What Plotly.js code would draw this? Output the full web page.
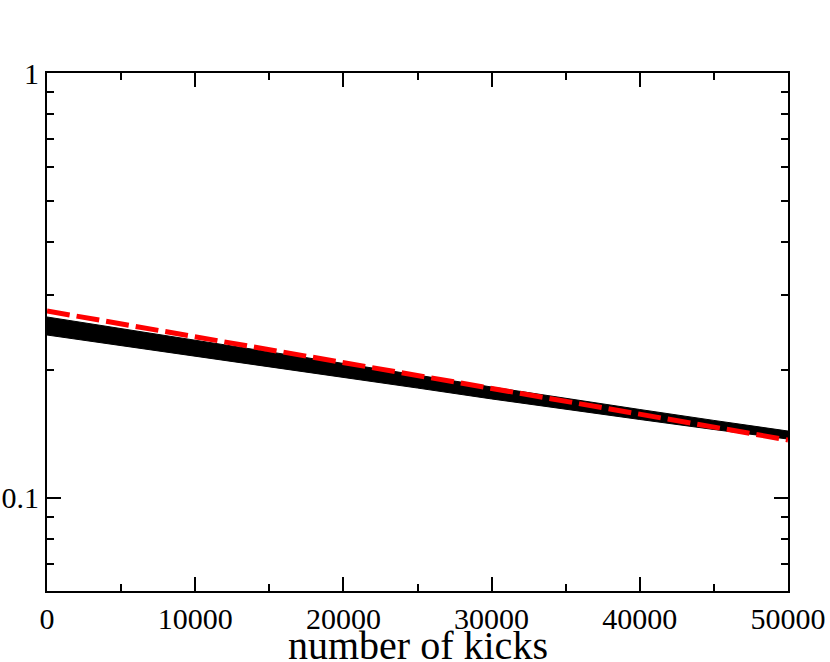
<!DOCTYPE html>
<html>
<head>
<meta charset="utf-8">
<script src="https://cdn.plot.ly/plotly-3.0.1.min.js"></script>
<style>
  body { margin: 0; background: #fff; }
  #myDiv { width: 830px; height: 662px; }
</style>
</head>
<body>
<div id="myDiv"></div>
<script>
// spyndziai (kicks) ir juostos ribos nuskaitytos nuo paveiksliuko
var kicks = [0, 5000, 10000, 15000, 20000, 25000, 30000, 35000, 40000, 45000, 50000];
var virsus = [0.2666, 0.2505, 0.2354, 0.2211, 0.2077, 0.1946, 0.1824, 0.1714, 0.1615, 0.1522, 0.1437];
var apacia = [0.2418, 0.2284, 0.2158, 0.2038, 0.1925, 0.1814, 0.1710, 0.1615, 0.1530, 0.1449, 0.1376];
var vidurys = [0.2539, 0.2392, 0.2254, 0.2123, 0.2000, 0.1879, 0.1766, 0.1664, 0.1572, 0.1485, 0.1406];

var fitX = [0, 25000, 50000];
var fitY = [0.2754, 0.1942, 0.1369];

var xTicks = [0, 10000, 20000, 30000, 40000, 50000];
var xTickText = ['0', '10000', '20000', '30000', '40000', '50000'];
var yMajor = [0.1, 1];
var yMajorText = ['0.1', '1'];
var yMinor = [0.07, 0.08, 0.09, 0.2, 0.3, 0.4, 0.5, 0.6, 0.7, 0.8, 0.9];

var trace1 = {
    x: kicks,
    y: apacia,
    mode: 'lines',
    type: 'scatter',
    line: { color: 'black', width: 1 },
    hoverinfo: 'skip'
};
var trace2 = {
    x: kicks,
    y: virsus,
    mode: 'lines',
    type: 'scatter',
    fill: 'tonexty',
    fillcolor: 'black',
    line: { color: 'black', width: 1 },
    hoverinfo: 'skip'
};
var trace3 = {
    x: kicks,
    y: vidurys,
    mode: 'lines',
    type: 'scatter',
    line: { color: 'black', width: 2 }
};
var trace4 = {
    x: fitX,
    y: fitY,
    mode: 'lines',
    type: 'scatter',
    line: { color: '#ff0000', width: 5, dash: '23px,7px' }
};
var data = [trace1, trace2, trace3, trace4];

var layout = {
    width: 830,
    height: 662,
    showlegend: false,
    paper_bgcolor: 'white',
    plot_bgcolor: 'white',
    margin: { l: 47, r: 42, t: 73, b: 71 },
    font: { family: 'Liberation Serif, Times New Roman, serif', color: 'black', size: 30 },
    xaxis: {
        range: [0, 50000],
        tickvals: xTicks,
        ticktext: xTickText,
        ticks: 'inside',
        ticklen: 14,
        tickwidth: 2,
        tickcolor: 'black',
        minor: { dtick: 5000, tick0: 0, ticks: 'inside', ticklen: 7, tickwidth: 2, tickcolor: 'black' },
        showline: true,
        linewidth: 2,
        linecolor: 'black',
        mirror: 'ticks',
        showgrid: false,
        zeroline: false,
        automargin: false,
        tickfont: { size: 30 }
    },
    yaxis: {
        type: 'log',
        range: [Math.log10(0.0604), 0],
        tickvals: yMajor,
        ticktext: yMajorText,
        ticks: 'inside',
        ticklen: 14,
        tickwidth: 2,
        tickcolor: 'black',
        minor: { tickvals: yMinor, ticks: 'inside', ticklen: 7, tickwidth: 2, tickcolor: 'black' },
        showline: true,
        linewidth: 2,
        linecolor: 'black',
        mirror: 'ticks',
        showgrid: false,
        zeroline: false,
        automargin: false,
        tickfont: { size: 30 }
    },
    annotations: [{
        text: 'number of kicks',
        xref: 'paper',
        yref: 'paper',
        x: 0.5,
        y: -0.106,
        xanchor: 'center',
        yanchor: 'middle',
        showarrow: false,
        borderpad: 0,
        font: { size: 40 }
    }]
};

Plotly.newPlot('myDiv', data, layout, { displayModeBar: false, staticPlot: true });
</script>
</body>
</html>
